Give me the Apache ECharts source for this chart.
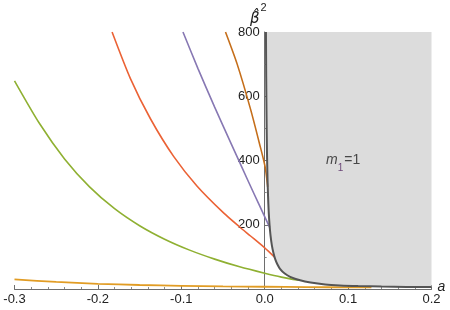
<!DOCTYPE html>
<html><head><meta charset="utf-8">
<script src="https://cdn.jsdelivr.net/npm/echarts@6/dist/echarts.min.js"></script>
<style>html,body{margin:0;padding:0;background:#fff}#c{width:450px;height:310px}</style>
</head><body><div id="c"></div>
<script>
// tick labels
var xTicks = [-0.3, -0.2, -0.1, 0.0, 0.1, 0.2];
var yTicks = [200, 400, 600, 800];

// curves: [a, beta^2]
var orangeCurve = [[-0.3,30],[-0.25,22],[-0.2,16],[-0.15,12.5],[-0.1,10],[-0.05,8],[0,7],[0.05,6],[0.1,5],[0.128,5]];
var greenCurve = [[-0.3,648],[-0.27,515],[-0.24,405],[-0.21,318],[-0.18,250],[-0.15,197],[-0.12,155],[-0.09,121],[-0.06,93],[-0.03,69],[0,49],[0.02,37],[0.041,27]];
var redCurve = [[-0.183,800],[-0.161,655],[-0.137,530],[-0.109,412],[-0.081,320],[-0.049,236],[-0.03,193],[-0.017,165],[0,128],[0.0115,100]];
var purpleCurve = [[-0.098,800],[-0.08,686],[-0.06,566],[-0.04,451],[-0.02,337],[-0.007,264],[0.006,192]];
var brownCurve = [[-0.047,800],[-0.033,700],[-0.017,560],[-0.006,450],[0.0005,380],[0.0036,318]];
var boundaryCurve = [[0.0015,800],[0.0018,660],[0.0022,540],[0.0027,430],[0.0034,340],[0.004,290],[0.0048,240],[0.0058,200],[0.007,166],[0.0086,136],[0.0105,112],[0.0126,93],[0.015,78],[0.0186,62],[0.024,48],[0.0305,38],[0.0425,27],[0.055,20],[0.0725,14],[0.09,11],[0.112,9],[0.14,7.5],[0.17,6.5],[0.2,6]];
var regionLabel = [[0.094, 400]];

var W = 450, gridLeft = 14.5, gridRight = 18.5;
var xMin = -0.3, xMax = 0.2;
// shift the y axis onto a = 0
var yAxisOffset = -(W - gridLeft - gridRight) * (0 - xMin) / (xMax - xMin);

var chart = echarts.init(document.getElementById('c'), null, {renderer:'canvas'});
var font = 'Liberation Sans, Arial, sans-serif';
function lineSeries(data, color, w) {
  return {type:'line', data:data, showSymbol:false, smooth:0.25,
    lineStyle:{color:color, width:w||1.6}, z:3, silent:true};
}
chart.setOption({
  animation:false,
  grid:{left:gridLeft, right:gridRight, top:32, bottom:21, containLabel:false, outerBoundsMode:'none'},
  xAxis:{type:'value', min:xMin, max:xMax, interval:0.1,
    name:'a', nameLocation:'end', nameGap:6, nameMoveOverlap:false,
    nameTextStyle:{fontFamily:font, fontSize:14, fontStyle:'italic', color:'#222', align:'left', verticalAlign:'bottom', padding:[0,0,-5,0]},
    axisLine:{onZero:false, lineStyle:{color:'#6e6e6e', width:1}},
    axisTick:{inside:true, length:4, lineStyle:{color:'#6e6e6e'}},
    minorTick:{show:true, splitNumber:5, length:2, lineStyle:{color:'#8a8a8a'}},
    splitLine:{show:false},
    axisLabel:{fontFamily:font, fontSize:13, color:'#222', margin:4, hideOverlap:false,
      formatter:function(v){ for (var i=0;i<xTicks.length;i++){ if (Math.abs(v-xTicks[i])<1e-9) return xTicks[i].toFixed(1);} return ''; }}
  },
  yAxis:{type:'value', min:0, max:800, interval:200, position:'left', offset:yAxisOffset,
    name:'{b|β̂}{s|2}', nameLocation:'end', nameGap:5, nameMoveOverlap:false,
    nameTextStyle:{align:'right', padding:[0,-2,0,0], rich:{
      b:{fontFamily:'DejaVu Sans', fontSize:15, fontStyle:'italic', color:'#222', verticalAlign:'bottom'},
      s:{fontFamily:font, fontSize:11, color:'#222', verticalAlign:'top', padding:[0,0,14,1]}}},
    axisLine:{onZero:false, lineStyle:{color:'#6e6e6e', width:1}},
    axisTick:{inside:true, length:4, lineStyle:{color:'#6e6e6e'}},
    minorTick:{show:true, splitNumber:2, length:2, lineStyle:{color:'#8a8a8a'}},
    splitLine:{show:false},
    axisLabel:{fontFamily:font, fontSize:13, color:'#222', margin:5, showMinLabel:false,
      formatter:function(v){ return yTicks.indexOf(v)>=0 ? String(v) : ''; }}
  },
  series:[
    {type:'line', data:boundaryCurve, showSymbol:false, smooth:0.25,
      lineStyle:{width:0}, areaStyle:{origin:'end', color:'#dcdcdc', opacity:1}, z:1, silent:true},
    lineSeries(orangeCurve, '#E19C24', 1.8),
    lineSeries(greenCurve, '#8FB032'),
    lineSeries(redCurve, '#EB6235'),
    lineSeries(purpleCurve, '#8778B3'),
    lineSeries(brownCurve, '#C56E1A'),
    {type:'line', data:boundaryCurve, showSymbol:false, smooth:0.25,
      lineStyle:{color:'#555555', width:2}, z:4, silent:true},
    {type:'scatter', data:regionLabel, symbolSize:0, silent:true, z:5,
      label:{show:true, position:'inside', formatter:'{m|m}{s|1}{t|=1}',
        rich:{m:{fontFamily:font, fontSize:14, fontStyle:'italic', color:'#222'},
              s:{fontFamily:font, fontSize:10, color:'#4a1a5a', verticalAlign:'bottom', padding:[0,1,-6,0]},
              t:{fontFamily:font, fontSize:14, color:'#222'}}}}
  ]
});
</script></body></html>
